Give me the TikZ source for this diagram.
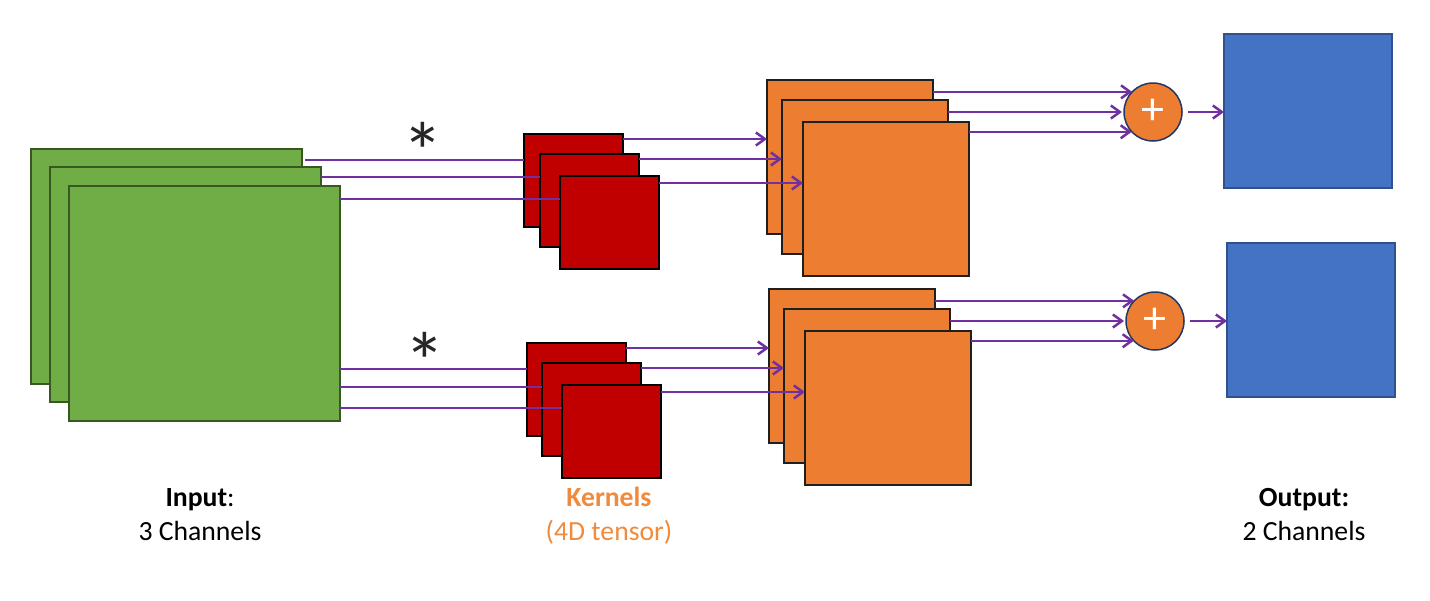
\documentclass[tikz,border=0pt]{standalone}
\usepackage{fontspec}
\setmainfont{Carlito}
\usetikzlibrary{arrows.meta}
\definecolor{gfill}{HTML}{70AD47}
\definecolor{gdraw}{HTML}{385723}
\definecolor{rfill}{HTML}{C00000}
\definecolor{ofill}{HTML}{ED7D31}
\definecolor{odraw}{HTML}{1F1F1F}
\definecolor{bfill}{HTML}{4472C4}
\definecolor{bdraw}{HTML}{2F528F}
\definecolor{pline}{HTML}{7030A0}
\definecolor{ktext}{HTML}{F08A3C}
\begin{document}
\begin{tikzpicture}[x=1pt,y=-1pt,
  base/.style={rectangle,inner sep=0pt,outer sep=0pt,anchor=north west},
  gbox/.style={base,fill=gfill,draw=gdraw,line width=1.5pt,minimum width=271pt,minimum height=235pt},
  rbox/.style={base,fill=rfill,draw=black,line width=1.6pt,minimum width=99pt,minimum height=93pt},
  obox/.style={base,fill=ofill,draw=odraw,line width=1.8pt,minimum width=166pt,minimum height=154pt},
  bbox/.style={base,fill=bfill,draw=bdraw,line width=1.5pt,minimum width=168pt,minimum height=154pt},
  sumnode/.style={circle,fill=ofill,draw=bdraw!70!black,line width=1.5pt,minimum size=58pt,inner sep=0pt,outer sep=0pt,
     text=white,font=\fontsize{46}{46}\selectfont},
  conn/.style={draw=pline,line width=2.5pt},
  arr/.style={conn,-{Straight Barb[length=9pt,width=13pt]}},
  lbl/.style={font=\fontsize{27.7}{34}\selectfont,align=center,anchor=base},
  star/.style={font=\fontsize{82}{82}\selectfont,text=black!85,inner sep=0pt}
]
\useasboundingbox (0,0) rectangle (1430,600);

% input channels
\node[gbox] (g1) at (31,149) {};
\node[gbox] (g2) at (50,167) {};
\node[gbox] (g3) at (69,186) {};

% kernels
\node[rbox] (r1) at (524,134) {};
\node[rbox] (r2) at (540,154) {};
\node[rbox] (r3) at (560,176) {};
\node[rbox] (r4) at (527,343) {};
\node[rbox] (r5) at (542,363) {};
\node[rbox] (r6) at (562,385) {};

% intermediate maps
\node[obox] (o1) at (767,80) {};
\node[obox] (o2) at (782,100) {};
\node[obox] (o3) at (803,122) {};
\node[obox] (o4) at (769,289) {};
\node[obox] (o5) at (784,309) {};
\node[obox] (o6) at (805,331) {};

% sums
\node[sumnode] (c1) at (1153,112) {+};
\node[sumnode] (c2) at (1155,321) {+};

% outputs
\node[bbox] (b1) at (1224,34) {};
\node[bbox] (b2) at (1227,243) {};

% asterisks
\node[star] (s1) at (423,151) {*};
\node[star] (s2) at (425,361) {*};

% input -> kernels
\coordinate (y1) at (0,160);
\coordinate (y2) at (0,177);
\coordinate (y3) at (0,199);
\coordinate (y4) at (0,369);
\coordinate (y5) at (0,387);
\coordinate (y6) at (0,408);
\draw[conn,shorten <=3pt] (y1 -| g1.east) -- (y1 -| r1.west);
\draw[conn] (y2 -| g2.east) -- (y2 -| r2.west);
\draw[conn] (y3 -| g3.east) -- (y3 -| r3.west);
\draw[conn] (y4 -| g3.east) -- (y4 -| r4.west);
\draw[conn] (y5 -| g3.east) -- (y5 -| r5.west);
\draw[conn] (y6 -| g3.east) -- (y6 -| r6.west);

% kernels -> maps
\coordinate (k1) at (0,139);
\coordinate (k2) at (0,159);
\coordinate (k3) at (0,183);
\coordinate (k4) at (0,348);
\coordinate (k5) at (0,368);
\coordinate (k6) at (0,392);
\draw[arr] (k1 -| r1.east) -- (k1 -| o1.west);
\draw[arr] (k2 -| r2.east) -- (k2 -| o2.west);
\draw[arr] (k3 -| r3.east) -- (k3 -| o3.west);
\draw[arr] (k4 -| r4.east) -- (k4 -| o4.west);
\draw[arr] (k5 -| r5.east) -- (k5 -| o5.west);
\draw[arr] (k6 -| r6.east) -- (k6 -| o6.west);

% maps -> sums
\draw[arr] (c1.136.4 -| o1.east) -- (c1.136.4);
\draw[arr] (c1.west -| o2.east) -- ([xshift=-2pt]c1.west);
\draw[arr] (c1.223.6 -| o3.east) -- (c1.223.6);
\draw[arr] (c2.136.4 -| o4.east) -- (c2.136.4);
\draw[arr] (c2.west -| o5.east) -- ([xshift=-2pt]c2.west);
\draw[arr] (c2.223.6 -| o6.east) -- (c2.223.6);

% sums -> outputs
\draw[arr,shorten <=6pt] (c1.east) -- (c1.east -| b1.west);
\draw[arr,shorten <=6pt] (c2.east) -- (c2.east -| b2.west);

% labels
\node[lbl] (tin) at (200,540) {\textbf{Input}:\\3 Channels};
\node[lbl,text=ktext] (tk) at (609,540) {\textbf{Kernels}\\(4D tensor)};
\node[lbl] (tout) at (1304,540) {\textbf{Output:}\\2 Channels};
\end{tikzpicture}
\end{document}
